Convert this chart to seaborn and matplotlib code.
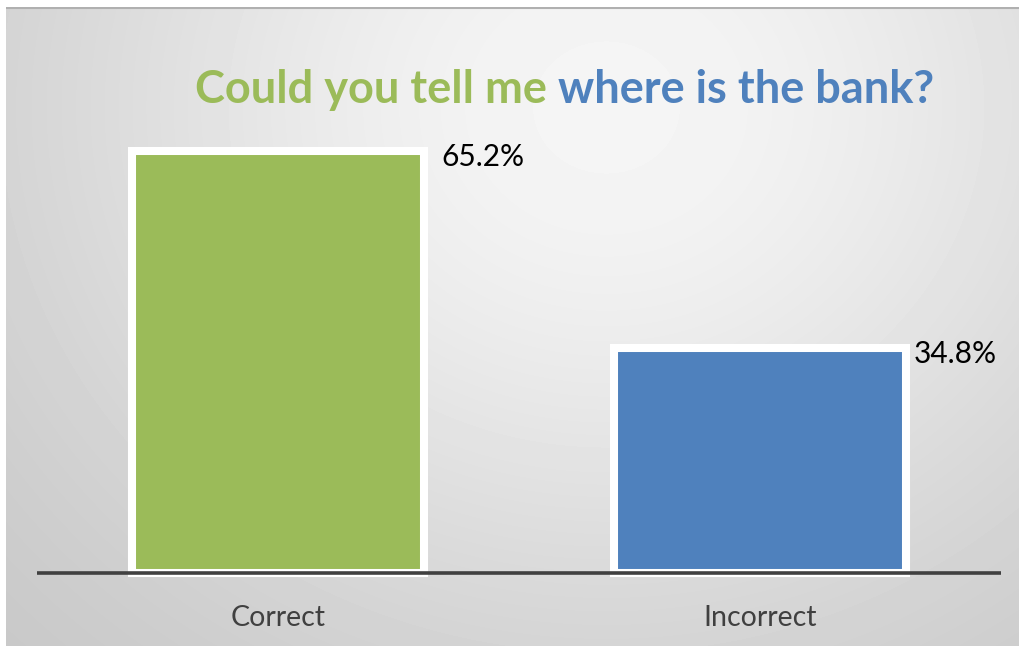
import numpy as np
import seaborn as sns
import matplotlib.pyplot as plt

categories = ["Correct", "Incorrect"]
percent = [65.2, 34.8]
bar_colors = ["#9BBB59", "#4F81BD"]
label_texts = ["65.2%", "34.8%"]
title_parts = ["Could you tell me ", "where is the bank?"]

sns.set_style("white")
plt.rcParams['font.family'] = ['Lato', 'DejaVu Sans']

fig = plt.figure(figsize=(10.21, 6.46), dpi=100)
fig.patch.set_facecolor("white")

# grey radial background like the slide
bg = fig.add_axes([6/1021, 0, 1013/1021, 639/646], zorder=0)
h, w = 639, 1013
yy, xx = np.mgrid[0:h, 0:w]
dx = (xx - 600) / 600
dy = (yy - 100) / 540
r2 = dx**2 + dy**2
shade = 0.96 - 0.2 * (1 - np.exp(-r2))
bg.imshow(shade, cmap="gray", vmin=0, vmax=1, aspect="auto", interpolation="bilinear")
bg.axhline(0, color="#b0b0b0", lw=1.5)
bg.set_axis_off()

ax = fig.add_axes([37/1021, 66.5/646, 964/1021, 491.4/646], zorder=1)
ax.set_facecolor("none")
sns.barplot(x=categories, y=percent, hue=categories, palette=bar_colors, saturation=1,
            width=0.607, edgecolor="white", linewidth=5.8, legend=False, ax=ax)
ax.set_xlim(-0.5, 1.5)
ax.set_ylim(-1, 75)
ax.axhline(0, color="#404040", lw=2.6, zorder=5)
for s in ax.spines.values():
    s.set_visible(False)
ax.set_yticks([])
ax.set_ylabel("")
ax.tick_params(axis="x", length=0, pad=18, labelsize=20.5, labelcolor="#404040")

offsets = [(17, -6), (7, -6)]
for i, bar in enumerate(ax.patches[:2]):
    ax.annotate(label_texts[i], xy=(bar.get_x() + bar.get_width(), bar.get_height()),
                xytext=offsets[i], textcoords="offset pixels", ha="left", va="center",
                fontsize=21.5, color="black")

t1 = fig.text(195/1021, (646-103)/646, title_parts[0], color="#9BBB59", fontsize=32.5,
              fontweight="bold", ha="left", va="baseline")
ax.annotate(title_parts[1], xy=(1, 0), xycoords=t1, ha="left", va="bottom",
            color="#4F81BD", fontsize=32.5, fontweight="bold", annotation_clip=False)

fig.savefig("out.png", dpi=100, facecolor="white")
